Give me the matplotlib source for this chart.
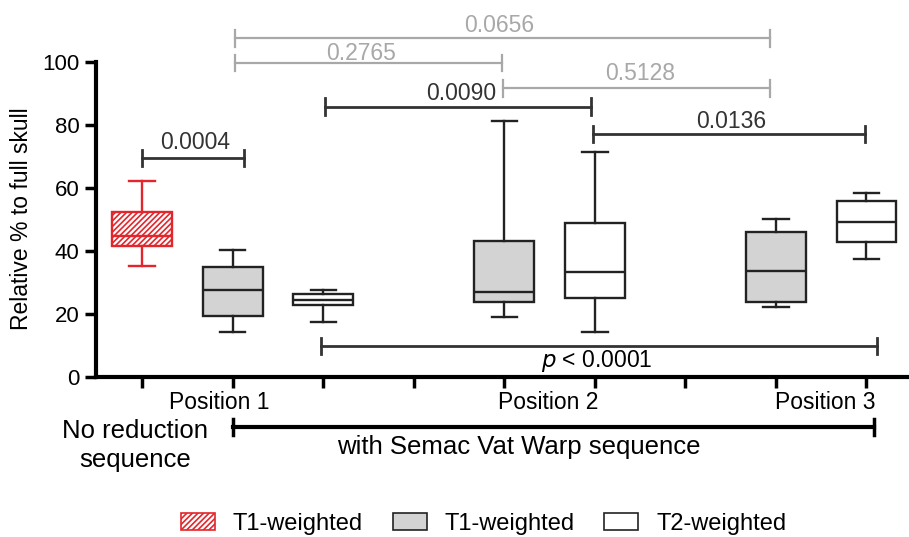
import matplotlib
matplotlib.use("Agg")
import matplotlib.pyplot as plt
from matplotlib.patches import Patch

plt.rcParams['font.family'] = ['Liberation Sans', 'DejaVu Sans']
plt.rcParams['hatch.linewidth'] = 1.2

# ---- data ----
positions = [1, 2, 3, 5, 6, 8, 9]
whislo = [35.3, 14.1, 17.3, 19.1, 14.3, 22.1, 37.3]
q1     = [41.7, 19.3, 22.8, 23.7, 24.9, 23.9, 42.9]
med    = [44.8, 27.6, 24.4, 26.8, 33.4, 33.7, 49.3]
q3     = [52.4, 34.8, 26.3, 43.2, 49.0, 45.9, 56.0]
whishi = [62.3, 40.3, 27.6, 81.4, 71.6, 50.2, 58.3]
groups = ['red', 'gray', 'white', 'gray', 'white', 'gray', 'white']

# significance brackets: (x1, x2, y, label, color)
brackets = [
    (1.0, 2.13, 69.5, '0.0004', 'black'),
    (3.02, 5.96, 85.9, '0.0090', 'black'),
    (5.98, 8.98, 77.2, '0.0136', 'black'),
    (2.03, 4.98, 99.7, '0.2765', 'gray'),
    (2.03, 7.94, 107.6, '0.0656', 'gray'),
    (4.99, 7.94, 91.7, '0.5128', 'gray'),
]
label_x = [1.59, 4.52, 7.51, 3.42, 4.94, 6.5]
label_gap = [2.9, 2.1, 1.8, 1.05, 2.1, 2.6]
pos_labels = ['Position 1', 'Position 2', 'Position 3']
pos_label_x = [1.85, 5.48, 8.54]
yticks = [0, 20, 40, 60, 80, 100]
legend_labels = ['T1-weighted', 'T1-weighted', 'T2-weighted']

RED = '#e3262b'
GRAYF = '#d3d3d3'
GRAYL = '#a8a8a8'
LINE = '#222222'
FS = 16.5
FS2 = 18.5

fig = plt.figure(figsize=(9.09, 5.37), dpi=100)
ax = fig.add_axes([0.1056, 0.2985, 0.8944, 0.5855])

for i, g in enumerate(groups):
    st = dict(whislo=whislo[i], q1=q1[i], med=med[i], q3=q3[i],
              whishi=whishi[i], fliers=[])
    if g == 'red':
        col, fc, hatch = RED, 'white', '//////'
    elif g == 'gray':
        col, fc, hatch = LINE, GRAYF, None
    else:
        col, fc, hatch = LINE, 'white', None
    ax.bxp([st], positions=[positions[i]], widths=0.66,
           patch_artist=True, showfliers=False,
           boxprops=dict(facecolor=fc, edgecolor=col, linewidth=1.7, hatch=hatch),
           medianprops=dict(color=col, linewidth=1.7),
           whiskerprops=dict(color=col, linewidth=1.7),
           capprops=dict(color=col, linewidth=1.7),
           capwidths=0.28, manage_ticks=False)

ax.set_xlim(0.49, 9.47)
ax.set_ylim(0, 100)
ax.set_yticks(yticks)
ax.set_yticklabels([str(t) for t in yticks], fontsize=16)
ax.set_xticks(range(1, 10))
ax.set_xticklabels([])
ax.tick_params(axis='both', length=8, width=2.5, color='black')
ax.tick_params(axis='y', pad=4)
for s in ['top', 'right']:
    ax.spines[s].set_visible(False)
for s in ['left', 'bottom']:
    ax.spines[s].set_linewidth(3)
fig.text(22 / 909, 1 - 219 / 537, 'Relative % to full skull', rotation=90,
         ha='center', va='center', fontsize=16.5)

# brackets
for (x1, x2, y, lab, c), lx, gp in zip(brackets, label_x, label_gap):
    lc = '#333333' if c == 'black' else GRAYL
    lw = 2.0 if c == 'black' else 1.6
    ax.plot([x1, x2], [y, y], color=lc, lw=lw, clip_on=False)
    for xx in (x1, x2):
        ax.plot([xx, xx], [y - 2.6, y + 2.6], color=lc, lw=lw, clip_on=False)
    ax.text(lx, y + gp, lab, color=lc, ha='center', va='baseline',
            fontsize=FS, clip_on=False)

# p < 0.0001 bracket
py = 9.8
ax.plot([2.97, 9.12], [py, py], color='#333333', lw=2.0, clip_on=False)
for xx in (2.97, 9.12):
    ax.plot([xx, xx], [py - 2.6, py + 2.6], color='#333333', lw=2.0, clip_on=False)
ax.text(6.02, 3.2, r'$p$ < 0.0001', ha='center', va='baseline', fontsize=FS)

# position labels
for lab, lx in zip(pos_labels, pos_label_x):
    ax.text(lx, -10.4, lab, ha='center', va='baseline', fontsize=FS, clip_on=False)

# group bracket below axis
by = -15.9
ax.plot([2.0, 9.08], [by, by], color='black', lw=3.0, clip_on=False)
for xx in (2.0, 9.08):
    ax.plot([xx, xx], [by - 2.6, by + 2.6], color='black', lw=2.5, clip_on=False)
ax.text(0.92, -19.6, 'No reduction', ha='center', va='baseline', fontsize=FS2, clip_on=False)
ax.text(0.92, -28.8, 'sequence', ha='center', va='baseline', fontsize=FS2, clip_on=False)
ax.text(5.16, -24.6, 'with Semac Vat Warp sequence', ha='center', va='baseline',
        fontsize=FS2, clip_on=False)

handles = [
    Patch(facecolor='white', edgecolor=RED, hatch='//////', linewidth=1.2),
    Patch(facecolor=GRAYF, edgecolor=LINE, linewidth=1.2),
    Patch(facecolor='white', edgecolor=LINE, linewidth=1.2),
]
fig.legend(handles, legend_labels,
           loc='lower center', bbox_to_anchor=(0.532, 0.004), ncol=3,
           frameon=False, fontsize=17, handlelength=1.44, handleheight=0.76,
           columnspacing=1.25, handletextpad=0.76, borderpad=0, borderaxespad=0)

fig.savefig('out.png', dpi=100)
